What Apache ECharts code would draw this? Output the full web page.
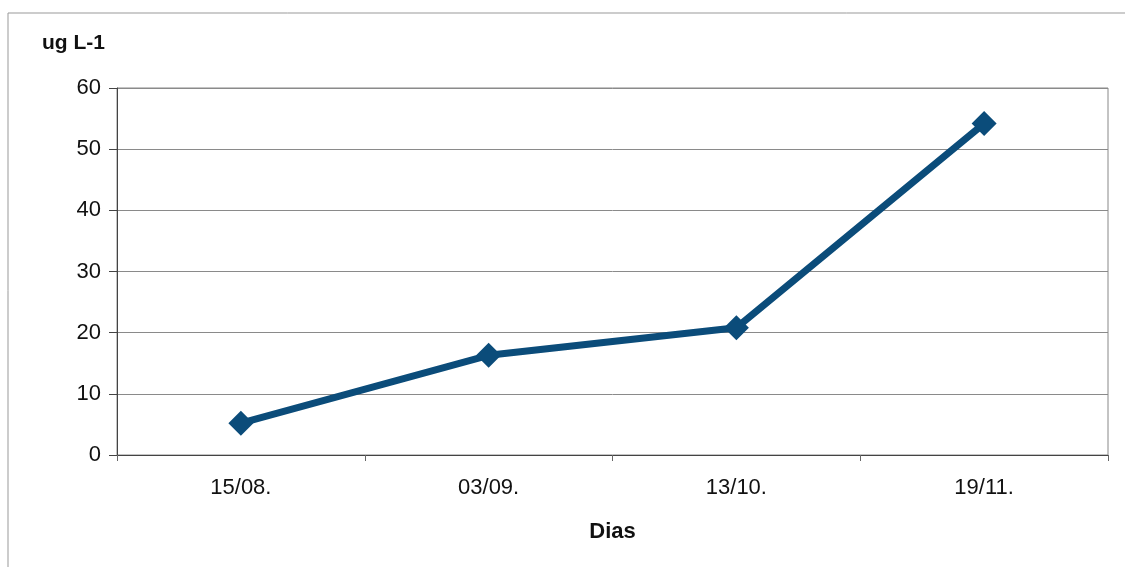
<!DOCTYPE html>
<html>
<head>
<meta charset="utf-8">
<style>
  html, body { margin: 0; padding: 0; background: #fff; }
  #chart { width: 1125px; height: 567px; }
</style>
<script src="https://cdn.jsdelivr.net/npm/echarts@6/dist/echarts.min.js"></script>
</head>
<body>
<div id="chart"></div>
<script>
// datas das coletas e concentração
const dias = ['15/08.', '03/09.', '13/10.', '19/11.'];
const valores = [5.2, 16.3, 20.8, 54.2];
const yTicks = [0, 10, 20, 30, 40, 50, 60];

const chart = echarts.init(document.getElementById('chart'));
const font = 'Liberation Sans, Arial, sans-serif';

chart.setOption({
  animation: false,
  backgroundColor: '#fff',
  title: {
    text: 'ug L-1',
    left: 37, top: 28,
    textStyle: { fontFamily: font, fontSize: 21, fontWeight: 'bold', color: '#111' }
  },
  grid: { left: 117, right: 17, top: 88, bottom: 112 },
  xAxis: {
    type: 'category',
    data: dias,
    boundaryGap: true,
    name: 'Dias',
    nameLocation: 'middle',
    nameGap: 66,
    nameTextStyle: { fontFamily: font, fontSize: 22, fontWeight: 'bold', color: '#111' },
    axisLine: { lineStyle: { color: '#444', width: 1 } },
    axisTick: { show: true, length: 6, inside: false, lineStyle: { color: '#666' } },
    axisLabel: { fontFamily: font, fontSize: 22, color: '#111', margin: 22 },
    splitLine: { show: false }
  },
  yAxis: {
    type: 'value',
    min: yTicks[0],
    max: yTicks[yTicks.length - 1],
    interval: 10,
    axisLine: { show: true, lineStyle: { color: '#444', width: 1 } },
    axisTick: { show: true, length: 8, lineStyle: { color: '#444' } },
    axisLabel: { fontFamily: font, fontSize: 22, color: '#111', margin: 16 },
    splitLine: { show: true, lineStyle: { color: '#8a8a8a', width: 1 } }
  },
  series: [{
    type: 'line',
    data: valores,
    symbol: 'diamond',
    symbolSize: 25,
    lineStyle: { color: '#0b4c7a', width: 7 },
    itemStyle: { color: '#0b4c7a' }
  }],
  // moldura externa e borda da área do gráfico
  graphic: [{
    type: 'rect',
    shape: { x: 8, y: 13, width: 1140, height: 600 },
    style: { fill: 'none', stroke: '#999', lineWidth: 1 },
    silent: true
  }, {
    type: 'rect',
    shape: { x: 117, y: 88, width: 991, height: 367 },
    style: { fill: 'none', stroke: '#888', lineWidth: 1 },
    silent: true
  }]
});
</script>
</body>
</html>
